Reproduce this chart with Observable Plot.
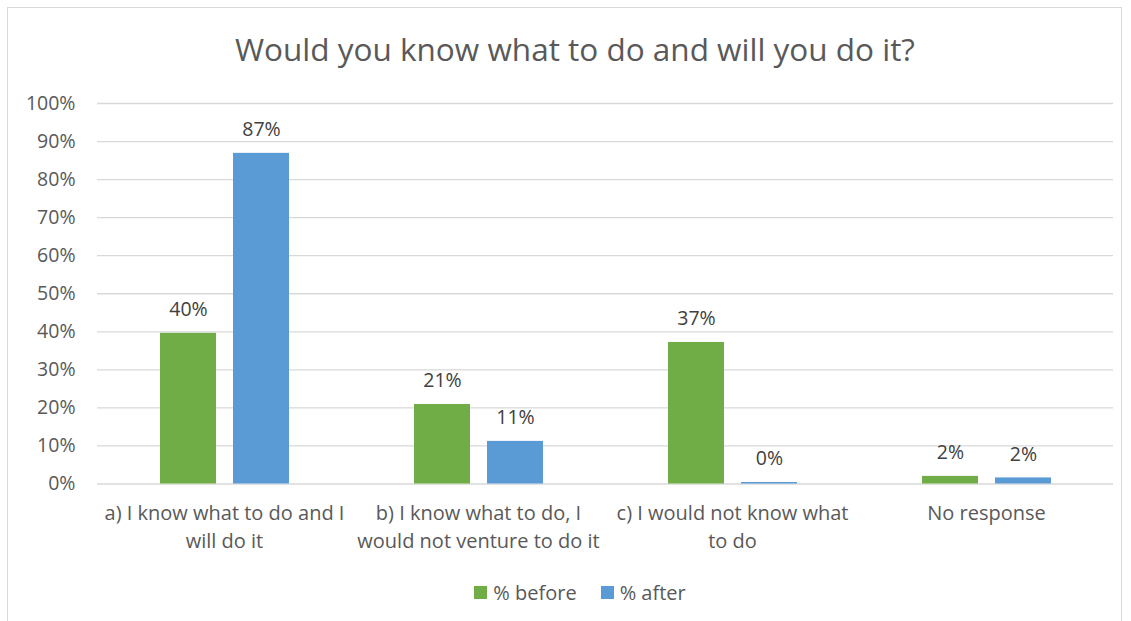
<!DOCTYPE html>
<html>
<head>
<meta charset="utf-8">
<script src="https://cdn.jsdelivr.net/npm/d3@7"></script>
<script src="https://cdn.jsdelivr.net/npm/@observablehq/plot@0.6"></script>
<style>
  html, body { margin: 0; padding: 0; background: #fff; }
  body { width: 1131px; height: 621px; position: relative; overflow: hidden; font-family: "Open Sans", Lato, sans-serif; }
  #frame { position: absolute; left: 7px; top: 7px; width: 1115px; height: 620px; border: 1px solid #d9d9d9; box-sizing: border-box; }
  #title { position: absolute; left: 0; width: 1150px; top: 27px; text-align: center; font-size: 31.5px; color: #595959; }
  #chart { position: absolute; left: 0; top: 80px; }
  #legend { position: absolute; left: 0; width: 1160px; top: 578px; text-align: center; font-size: 20px; color: #595959; }
  .item { display: inline-flex; align-items: center; margin: 0 12px; }
  .sw { width: 13px; height: 13px; display: inline-block; margin-right: 6px; }
</style>
</head>
<body>
<div id="frame"></div>
<div id="title">Would you know what to do and will you do it?</div>
<div id="chart"></div>
<div id="legend"></div>
<script>
const categories = [
  "a) I know what to do and I will do it",
  "b) I know what to do, I would not venture to do it",
  "c) I would not know what to do",
  "No response"
];
const tickLabels = [
  "a) I know what to do and I\nwill do it",
  "b) I know what to do, I\nwould not venture to do it",
  "c) I would not know what\nto do",
  "No response"
];
const seriesNames = ["% before", "% after"];
const before = [0.396, 0.209, 0.372, 0.020];
const after = [0.869, 0.112, 0.004, 0.016];
const yTicks = [0, 0.1, 0.2, 0.3, 0.4, 0.5, 0.6, 0.7, 0.8, 0.9, 1.0];
const colors = ["#70ad47", "#5b9bd5"];

const data = categories.flatMap((c, i) => [
  {cat: c, series: seriesNames[0], value: before[i]},
  {cat: c, series: seriesNames[1], value: after[i]}
]);
const pct = d3.format(".0%");

const chart = Plot.plot({
  width: 1131,
  height: 480,
  marginTop: 23,
  marginBottom: 76.5,
  marginLeft: 97,
  marginRight: 18,
  style: {fontFamily: "'Open Sans', Lato, sans-serif", fontSize: "20px", color: "#595959", background: "transparent"},
  fx: {domain: categories, padding: 0, label: null},
  x: {domain: seriesNames, paddingInner: 0.233, paddingOuter: 0.856, axis: null},
  y: {domain: [0, 1], label: null},
  color: {domain: seriesNames, range: colors},
  marks: [
    Plot.gridY(yTicks, {stroke: "#d9d9d9", strokeOpacity: 1, strokeWidth: 1.3}),
    Plot.axisY({ticks: yTicks, tickFormat: pct, tickSize: 0, tickPadding: 22, label: null, fill: "#595959", fontSize: 19.5}),
    Plot.axisFx({anchor: "bottom", tickSize: 0, tickPadding: 16, label: null, lineHeight: 1.4,
      tickFormat: d => tickLabels[categories.indexOf(d)], fill: "#595959", fontSize: 20}),
    Plot.barY(data, {fx: "cat", x: "series", y: "value", fill: "series"}),
    Plot.text(data, {fx: "cat", x: "series", y: "value", text: d => pct(d.value), lineAnchor: "bottom", dy: -17, fill: "#404040", fontSize: 19.5})
  ]
});
document.getElementById("chart").appendChild(chart);

const legend = document.getElementById("legend");
seriesNames.forEach((s, i) => {
  const item = document.createElement("span");
  item.className = "item";
  const sw = document.createElement("span");
  sw.className = "sw";
  sw.style.background = colors[i];
  item.appendChild(sw);
  item.appendChild(document.createTextNode(s));
  legend.appendChild(item);
});
</script>
</body>
</html>
